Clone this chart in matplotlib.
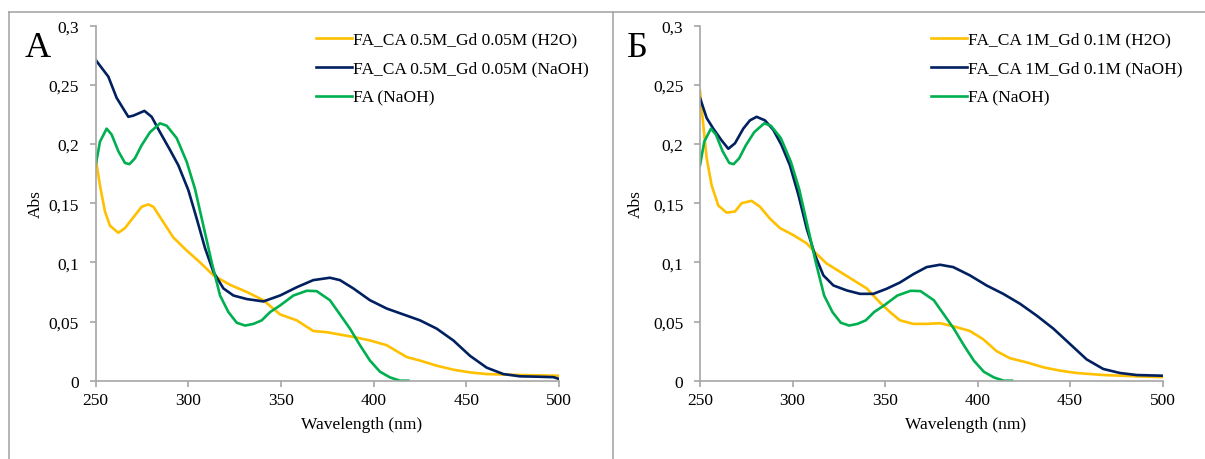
import matplotlib
matplotlib.use("Agg")
import matplotlib.pyplot as plt
from matplotlib.lines import Line2D

plt.rcParams['font.family'] = ['Liberation Serif', 'DejaVu Serif']
plt.rcParams['font.size'] = 12.5

# colours (Excel palette)
c_h2o = '#FFC000'
c_naoh = '#002060'
c_fa = '#00B050'

# ---- panel A : FA_CA 0.5M_Gd 0.05M ----
wl_a_h2o = [250, 252.3, 255, 257.7, 262.2, 265.8, 270.3, 274.8, 278.4, 281.1, 286.5, 291.9, 299.1,
            306.3, 313.5, 322.5, 331.5, 340.5, 349.5, 358.5, 367.4, 374.6, 380, 389, 398, 407,
            412.4, 417.8, 425, 434, 443, 452, 461, 479, 500]
abs_a_h2o = [0.188, 0.165, 0.143, 0.131, 0.125, 0.129, 0.138, 0.147, 0.149, 0.147, 0.134, 0.121, 0.110,
             0.100, 0.089, 0.081, 0.075, 0.068, 0.056, 0.051, 0.042, 0.041, 0.0395, 0.037, 0.034, 0.030,
             0.025, 0.020, 0.017, 0.0127, 0.0093, 0.007, 0.0056, 0.0048, 0.0042]

wl_a_naoh = [250, 256.8, 261.3, 267.6, 270.3, 276.3, 280.2, 284.7, 290.1, 294.6, 300, 304.5, 309,
             313.5, 318.9, 324.3, 331.5, 340.5, 349.5, 358.5, 367.4, 376.4, 381.8, 389, 398, 407,
             416, 425, 434, 443, 452, 461, 470, 479, 488, 497, 500]
abs_a_naoh = [0.271, 0.257, 0.239, 0.223, 0.224, 0.228, 0.223, 0.210, 0.195, 0.182, 0.161, 0.137, 0.112,
              0.092, 0.078, 0.072, 0.069, 0.067, 0.072, 0.079, 0.085, 0.087, 0.085, 0.078, 0.068, 0.061,
              0.056, 0.051, 0.044, 0.034, 0.021, 0.011, 0.0056, 0.0037, 0.0034, 0.003, 0.0015]

# ---- panel B : FA_CA 1M_Gd 0.1M ----
wl_b_h2o = [250, 251.4, 253.6, 256.3, 259.9, 264.4, 268.9, 272.5, 277.9, 282.4, 287.8, 293.2, 300.5,
            307.7, 313.1, 318.5, 325.7, 332.9, 340.1, 347.3, 352.7, 358.1, 365.3, 372.5, 379.7, 386.9,
            395.9, 403.1, 410.3, 417.5, 426.6, 435.6, 444.6, 453.6, 468, 486, 500]
abs_b_h2o = [0.245, 0.222, 0.188, 0.165, 0.148, 0.142, 0.143, 0.150, 0.152, 0.147, 0.137, 0.129, 0.123,
             0.116, 0.107, 0.099, 0.092, 0.085, 0.078, 0.066, 0.058, 0.051, 0.048, 0.048, 0.0486, 0.046,
             0.042, 0.035, 0.025, 0.019, 0.0155, 0.0113, 0.0085, 0.0065, 0.0048, 0.0037, 0.003]

wl_b_naoh = [250, 253.6, 257.2, 261.7, 265.3, 268.9, 273.4, 277, 280.6, 285.1, 289.6, 294.1, 298.6,
             303.2, 307.7, 312.2, 316.7, 322.1, 329.3, 336.5, 343.7, 350.9, 358.1, 365.3, 372.5, 379.7,
             386.9, 395.9, 404.9, 413.9, 423, 432, 441, 450, 459, 468, 477, 486, 500]
abs_b_naoh = [0.239, 0.222, 0.213, 0.203, 0.196, 0.2006, 0.213, 0.220, 0.223, 0.220, 0.212, 0.199, 0.182,
              0.157, 0.1285, 0.106, 0.089, 0.0805, 0.0763, 0.0734, 0.0734, 0.0777, 0.083, 0.090, 0.096, 0.098,
              0.096, 0.089, 0.0805, 0.0734, 0.065, 0.055, 0.044, 0.031, 0.018, 0.0099, 0.0065, 0.0048, 0.0042]

# ---- FA (NaOH), same in both panels ----
wl_fa = [250, 252.3, 255.9, 258.6, 262.2, 265.8, 268.2, 271.2, 274.8, 279.3, 284.7, 288.3, 293.7,
         299.1, 303.6, 308.1, 312.6, 317.1, 321.6, 326.1, 330.6, 335.1, 339.6, 344.1, 349.5, 356.7,
         363.9, 369.2, 376.4, 381.8, 387.2, 392.6, 398, 403.4, 408.8, 414.2, 418.7]
abs_fa = [0.182, 0.202, 0.213, 0.208, 0.194, 0.184, 0.183, 0.188, 0.199, 0.210, 0.2175, 0.2155, 0.205,
          0.185, 0.162, 0.131, 0.100, 0.072, 0.058, 0.049, 0.0466, 0.048, 0.051, 0.058, 0.0636, 0.072,
          0.076, 0.0757, 0.068, 0.056, 0.044, 0.030, 0.017, 0.0076, 0.0028, 0.0, 0.0]

xticks = [250, 300, 350, 400, 450, 500]
yticks = [0, 0.05, 0.1, 0.15, 0.2, 0.25, 0.3]
ytick_labels = ['0', '0,05', '0,1', '0,15', '0,2', '0,25', '0,3']

panels = [
    ('А', 'FA_CA 0.5M_Gd 0.05M', wl_a_h2o, abs_a_h2o, wl_a_naoh, abs_a_naoh),
    ('Б', 'FA_CA 1M_Gd 0.1M', wl_b_h2o, abs_b_h2o, wl_b_naoh, abs_b_naoh),
]

W, H = 1205, 460
fig = plt.figure(figsize=(W / 100, H / 100), dpi=100)

axes_px = [(95.7, 559.0), (700.0, 1162.5)]   # left / right pixel of each plot area
letter_px = [25, 627]
legend_px = [307, 922]
grey = '#A6A6A6'

for i, (letter, name, wh, ah, wn, an) in enumerate(panels):
    x0, x1 = axes_px[i]
    ax = fig.add_axes([x0 / W, 1 - 381.7 / H, (x1 - x0) / W, (381.7 - 26.7) / H])
    ax.plot(wh, ah, color=c_h2o, lw=1.9, label=name + ' (H2O)')
    ax.plot(wn, an, color=c_naoh, lw=1.9, label=name + ' (NaOH)')
    ax.plot(wl_fa, abs_fa, color=c_fa, lw=1.9, label='FA (NaOH)')
    ax.set_xlim(250, 500)
    ax.set_ylim(0, 0.3)
    ax.set_xticks(xticks)
    ax.set_yticks(yticks)
    ax.set_yticklabels(ytick_labels)
    for s in ['top', 'right']:
        ax.spines[s].set_visible(False)
    for s in ['left', 'bottom']:
        ax.spines[s].set_color(grey)
        ax.spines[s].set_linewidth(1.2)
    ax.tick_params(axis='both', color=grey, width=1.2, length=4, direction='out')
    ax.tick_params(axis='y', pad=8)
    ax.tick_params(axis='x', pad=4)
    ax.set_xlabel('Wavelength (nm)')
    ax.xaxis.set_label_coords(0.574, -0.10)
    ax.set_ylabel('Abs')
    ax.yaxis.set_label_coords(-0.112 if i == 0 else -0.121, 0.5)
    ax.patch.set_alpha(0)

    ax.legend(loc='upper left', bbox_to_anchor=(legend_px[i] / W, 1 - 24 / H),
              bbox_transform=fig.transFigure, frameon=False, borderpad=0,
              handlelength=2.1, handletextpad=0.05, labelspacing=0.74)

    fig.text(letter_px[i] / W, 1 - 57 / H, letter, fontsize=26, ha='left', va='baseline')

# outer frame lines
frame_kw = dict(color='#A0A0A0', lw=1.1, transform=fig.transFigure)
fig.add_artist(Line2D([8.5 / W, 1.0], [1 - 13.3 / H, 1 - 13.3 / H], **frame_kw))
fig.add_artist(Line2D([8.5 / W, 8.5 / W], [0, 1 - 13.3 / H], **frame_kw))
fig.add_artist(Line2D([613 / W, 613 / W], [0, 1 - 13.3 / H], **frame_kw))

fig.savefig('out.png', dpi=100, facecolor='white')
